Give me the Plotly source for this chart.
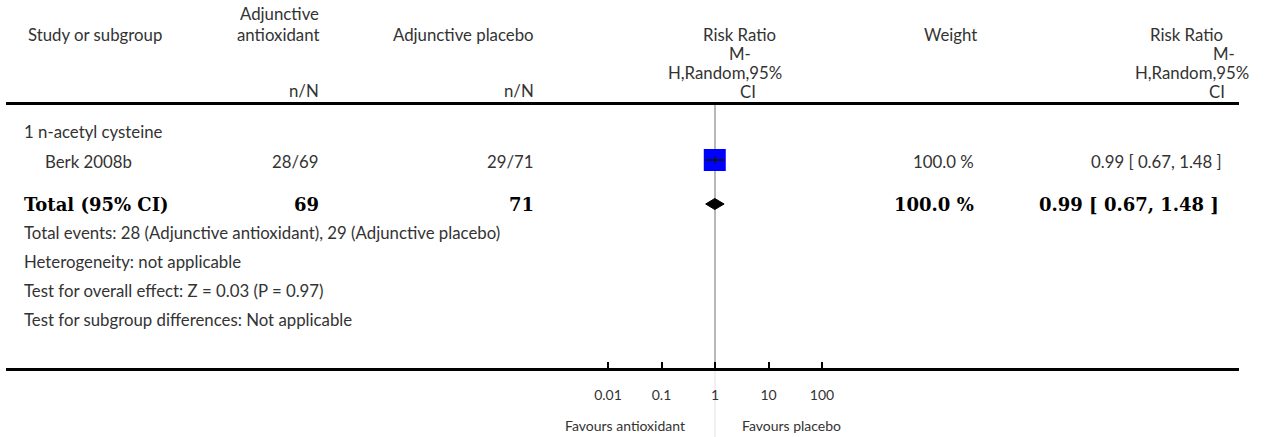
import plotly.graph_objects as go

# ---- data -------------------------------------------------------------
subgroup_label = "1 n-acetyl cysteine"
study_names = ["Berk 2008b"]
events_antiox = [28]
total_antiox = [69]
events_placebo = [29]
total_placebo = [71]
study_rr = [0.99]
study_lo = [0.67]
study_hi = [1.48]
study_weight = [100.0]

pooled_rr = 0.99
pooled_lo = 0.67
pooled_hi = 1.48
pooled_weight = 100.0

tick_vals = [0.01, 0.1, 1, 10, 100]
tick_text = ["0.01", "0.1", "1", "10", "100"]

footer_lines = [
    "Total events: 28 (Adjunctive antioxidant), 29 (Adjunctive placebo)",
    "Heterogeneity: not applicable",
    "Test for overall effect: Z = 0.03 (P = 0.97)",
    "Test for subgroup differences: Not applicable",
]

# ---- layout constants (pixels) ---------------------------------------
W, H = 1268, 437
LINE_L, LINE_R = 6, 1239
X_ONE = 715          # pixel position of RR = 1
PX_PER_DECADE = 53.5
HEADER_RULE_Y = 103.5
AXIS_Y = 368.5

SANS = "Lato"
SERIF = "DejaVu Serif"
TXT = "#333333"
FS = 16.8

row_subgroup = 131
row_study = [161]
row_total = 204
row_footer = [232, 261, 290, 319]

col_text_left = 22
col_study_left = 43
col_antiox_right = 321
col_placebo_right = 536
col_weight_right = 976
col_ci_right = 1224

fig = go.Figure()

# study squares (size by weight) with their confidence interval lines
for name, rr, lo, hi, w, y in zip(study_names, study_rr, study_lo, study_hi,
                                  study_weight, row_study):
    fig.add_trace(go.Scatter(
        x=[rr], y=[y - 1], mode="markers",
        marker=dict(symbol="square", size=22 * (w / 100.0) ** 0.5,
                    color="#0000ff", line=dict(width=0)),
        hoverinfo="skip", showlegend=False))
    fig.add_trace(go.Scatter(
        x=[lo, hi], y=[y - 1, y - 1], mode="lines",
        line=dict(color="#111133", width=2),
        hoverinfo="skip", showlegend=False))
    fig.add_trace(go.Scatter(
        x=[rr], y=[y - 1], mode="markers",
        marker=dict(symbol="line-ns", size=5,
                    line=dict(color="#111133", width=1.5)),
        hoverinfo="skip", showlegend=False))

# pooled diamond
half_h = 5.5
fig.add_trace(go.Scatter(
    x=[pooled_lo, pooled_rr, pooled_hi, pooled_rr, pooled_lo],
    y=[row_total, row_total - half_h, row_total, row_total + half_h, row_total],
    mode="lines", fill="toself", fillcolor="black",
    line=dict(color="black", width=1),
    hoverinfo="skip", showlegend=False))

shapes = [
    # rule under the column headers
    dict(type="line", xref="paper", yref="y",
         x0=LINE_L / W, x1=LINE_R / W, y0=HEADER_RULE_Y, y1=HEADER_RULE_Y,
         line=dict(color="black", width=3)),
    # line of no effect (behind the markers)
    dict(type="line", xref="x", yref="y", x0=1, x1=1, layer="below",
         y0=HEADER_RULE_Y + 1.5, y1=AXIS_Y - 1.5,
         line=dict(color="#a0a0a0", width=1.5)),
    # divider between the favours labels
    dict(type="line", xref="x", yref="y", x0=1, x1=1, layer="below",
         y0=AXIS_Y + 1.5, y1=H,
         line=dict(color="#e2e2e2", width=1)),
]

annotations = []


def label(px, py, text, anchor="left", size=FS, font=SANS, color=TXT,
          weight="normal"):
    annotations.append(dict(
        xref="paper", yref="y", x=px / W, y=py, text=text,
        xanchor=anchor, yanchor="middle", showarrow=False,
        font=dict(family=font, size=size, color=color, weight=weight)))


# column headers
label(26, 34, "Study or subgroup")
label(col_antiox_right, 13, "Adjunctive", "right")
label(col_antiox_right, 34, "antioxidant", "right")
label(col_antiox_right, 90, "n/N", "right")
label(col_placebo_right, 34, "Adjunctive placebo", "right")
label(col_placebo_right, 90, "n/N", "right")
label(778, 34, "Risk Ratio", "right")
label(753, 53, "M-", "right")
label(784, 72, "H,Random,95%", "right")
label(758, 91, "CI", "right")
label(950, 34, "Weight", "center")
label(1225, 34, "Risk Ratio", "right")
label(1237, 53, "M-", "right")
label(1251, 72, "H,Random,95%", "right")
label(1227, 91, "CI", "right")

# subgroup and study rows
label(col_text_left, row_subgroup, subgroup_label)
for name, ea, na, ep, npl, rr, lo, hi, w, y in zip(
        study_names, events_antiox, total_antiox, events_placebo,
        total_placebo, study_rr, study_lo, study_hi, study_weight, row_study):
    label(col_study_left, y, name)
    label(col_antiox_right, y, f"{ea}/{na}", "right")
    label(col_placebo_right, y, f"{ep}/{npl}", "right")
    label(col_weight_right, y, f"{w:.1f} %", "right")
    label(col_ci_right, y, f"{rr:.2f} [ {lo:.2f}, {hi:.2f} ]", "right")

# pooled row
bold = dict(size=18, font=SERIF, color="black", weight="bold")
label(col_text_left, row_total, "Total (95% CI)", **bold)
label(col_antiox_right, row_total, f"{sum(total_antiox)}", "right", **bold)
label(col_placebo_right, row_total, f"{sum(total_placebo)}", "right", **bold)
label(col_weight_right, row_total, f"{pooled_weight:.1f} %", "right", **bold)
label(col_ci_right - 3, row_total,
      f"{pooled_rr:.2f} [ {pooled_lo:.2f}, {pooled_hi:.2f} ]", "right", **bold)

# summary statistics
for text, y in zip(footer_lines, row_footer):
    label(col_text_left, y, text)

# favours labels
label(X_ONE - 28, 425, "Favours antioxidant", "right", size=14)
label(X_ONE + 25, 425, "Favours placebo", "left", size=14)

log_left = (LINE_L - X_ONE) / PX_PER_DECADE
log_right = (LINE_R - X_ONE) / PX_PER_DECADE

fig.update_layout(
    width=W, height=H,
    margin=dict(l=0, r=0, t=0, b=0),
    paper_bgcolor="white", plot_bgcolor="rgba(0,0,0,0)",
    shapes=shapes, annotations=annotations,
    xaxis=dict(
        type="log", range=[log_left, log_right],
        domain=[LINE_L / W, LINE_R / W],
        anchor="free", position=1 - AXIS_Y / H,
        showline=True, linecolor="black", linewidth=3,
        ticks="inside", ticklen=6, tickwidth=2, tickcolor="black",
        tickvals=tick_vals, ticktext=tick_text,
        tickfont=dict(family=SANS, size=14, color=TXT),
        ticklabelstandoff=13,
        showgrid=False, zeroline=False, fixedrange=True,
    ),
    yaxis=dict(
        range=[H, 0], domain=[0, 1], visible=False,
        showgrid=False, zeroline=False, fixedrange=True,
    ),
)

fig.write_html("out.html")
